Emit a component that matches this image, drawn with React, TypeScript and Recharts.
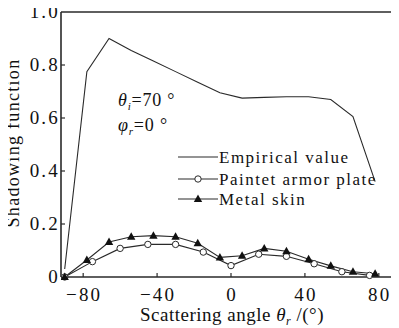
import { LineChart, Line, XAxis, YAxis, ReferenceLine } from 'recharts';

const empiricalX = [-90, -78, -66, -54, -42, -30, -18, -6, 6, 18, 30, 42, 54, 66, 78];
const empiricalY = [0.03, 0.775, 0.9, 0.855, 0.815, 0.775, 0.735, 0.695, 0.675, 0.678, 0.68, 0.68, 0.67, 0.605, 0.36];

const paintedX = [-90, -75, -60, -45, -30, -15, 0, 15, 30, 45, 60, 75];
const paintedY = [0, 0.058, 0.108, 0.123, 0.123, 0.094, 0.043, 0.086, 0.078, 0.05, 0.02, 0.006];

const metalX = [-90, -78, -66, -54, -42, -30, -18, -6, 6, 18, 30, 42, 54, 66, 78];
const metalY = [0, 0.064, 0.132, 0.152, 0.156, 0.152, 0.127, 0.074, 0.08, 0.108, 0.097, 0.067, 0.042, 0.02, 0.012];

const xTicks = [-80, -40, 0, 40, 80];
const yTicks = [0, 0.2, 0.4, 0.6, 0.8, 1.0];
const yTickLabels = ['0', '0.2', '0.4', '0.6', '0.8', '1.0'];

const toRows = (xs: number[], ys: number[]) => xs.map((x, i) => ({ x, y: ys[i] }));
const empirical = toRows(empiricalX, empiricalY);
const painted = toRows(paintedX, paintedY);
const metal = toRows(metalX, metalY);

const FONT = '"Liberation Serif", "Times New Roman", serif';
const INK = '#2a2a2a';
const txt = { fontFamily: FONT };

const Circle = (props: any) => {
  const { cx, cy } = props;
  if (cx == null || cy == null) return null;
  return <circle cx={cx} cy={cy} r={3.2} fill="#fff" stroke={INK} strokeWidth={1} />;
};

const Triangle = (props: any) => {
  const { cx, cy } = props;
  if (cx == null || cy == null) return null;
  return <path d={`M${cx},${cy - 4.5} L${cx + 4.2},${cy + 3} L${cx - 4.2},${cy + 3} Z`} fill="#111" />;
};

const YTick = (props: any) => {
  const { x, y, payload } = props;
  const i = yTicks.indexOf(payload.value);
  return (
    <g>
      {i > 0 && i < yTicks.length - 1 && <line x1={x} x2={x + 4} y1={y} y2={y} stroke={INK} strokeWidth={1.2} />}
      <text x={x - 1} y={y + 6} textAnchor="end" style={txt} fontSize={19} letterSpacing={2.2} fill="#111">
        {yTickLabels[i]}
      </text>
    </g>
  );
};

const XTick = (props: any) => {
  const { x, y, payload } = props;
  const label = payload.value < 0 ? `\u2212${Math.abs(payload.value)}` : `${payload.value}`;
  return (
    <g>
      <line x1={x} x2={x} y1={y} y2={y - 4} stroke={INK} strokeWidth={1.2} />
      <text x={x + 1} y={y + 24} textAnchor="middle" style={txt} fontSize={19} letterSpacing={2.2} fill="#111">
        {label}
      </text>
    </g>
  );
};

export default function App() {
  return (
    <div style={{ position: 'relative', width: 399, height: 328, margin: '-8px 0 0 -8px', overflow: 'hidden', background: '#fff' }}>
      <LineChart width={408} height={328} margin={{ top: 12, right: 7, bottom: 0, left: 0 }}>
        <XAxis
          type="number"
          dataKey="x"
          domain={[-92, 92]}
          ticks={xTicks}
          allowDataOverflow
          height={51}
          tickSize={0}
          tickMargin={0}
          tickLine={false}
          tick={<XTick />}
          axisLine={{ stroke: INK, strokeWidth: 1.6 }}
        />
        <YAxis
          type="number"
          dataKey="y"
          domain={[0, 1]}
          ticks={yTicks}
          width={61}
          tickSize={0}
          tickMargin={0}
          tickLine={false}
          tick={<YTick />}
          axisLine={{ stroke: INK, strokeWidth: 1.6 }}
        />
        <ReferenceLine y={1} stroke={INK} strokeWidth={1.6} />
        <Line data={empirical} dataKey="y" stroke={INK} strokeWidth={1.1} dot={false} isAnimationActive={false} />
        <Line data={painted} dataKey="y" stroke={INK} strokeWidth={1.1} dot={<Circle />} isAnimationActive={false} />
        <Line data={metal} dataKey="y" stroke={INK} strokeWidth={1.1} dot={<Triangle />} isAnimationActive={false} />
      </LineChart>
      <svg width={399} height={328} style={{ position: 'absolute', left: 0, top: 0, pointerEvents: 'none', fontFamily: FONT }} fill="#111">
        <text x={118} y={106} fontSize={18} letterSpacing={0.8}>
          <tspan fontStyle="italic">θ</tspan>
          <tspan fontStyle="italic" fontSize={11} dy={4}>i</tspan>
          <tspan dy={-4}>=70 °</tspan>
        </text>
        <text x={118} y={131} fontSize={18} letterSpacing={0.8}>
          <tspan fontStyle="italic">φ</tspan>
          <tspan fontStyle="italic" fontSize={11} dy={4}>r</tspan>
          <tspan dy={-4}>=0 °</tspan>
        </text>

        <line x1={178} x2={218} y1={157} y2={157} stroke={INK} strokeWidth={1.1} />
        <text x={219} y={163} fontSize={17} letterSpacing={1.5}>Empirical value</text>
        <line x1={178} x2={218} y1={179} y2={179} stroke={INK} strokeWidth={1.1} />
        <Circle cx={198} cy={179} />
        <text x={219} y={185} fontSize={17} letterSpacing={1.5}>Paintet armor plate</text>
        <line x1={178} x2={218} y1={199} y2={199} stroke={INK} strokeWidth={1.1} />
        <Triangle cx={198} cy={199} />
        <text x={219} y={205} fontSize={17} letterSpacing={1.5}>Metal skin</text>

        <text x={140} y={321} fontSize={19} letterSpacing={0.5}>
          Scattering  angle <tspan fontStyle="italic">θ</tspan>
          <tspan fontStyle="italic" fontSize={12} dy={4}>r</tspan>
          <tspan dy={-4}> /(°)</tspan>
        </text>
        <text x={19} y={143} fontSize={18} letterSpacing={1.3} textAnchor="middle" transform="rotate(-90 19 143)">
          Shadowing function
        </text>
      </svg>
    </div>
  );
}
